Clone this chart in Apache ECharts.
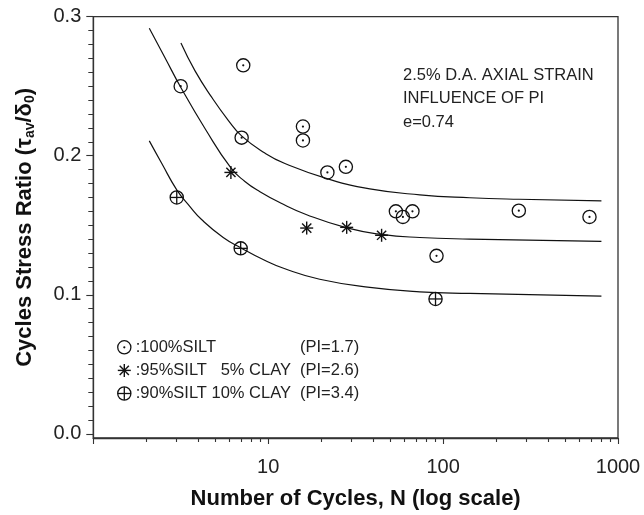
<!DOCTYPE html>
<html>
<head>
<meta charset="utf-8">
<script src="https://cdn.jsdelivr.net/npm/echarts@6/dist/echarts.min.js"></script>
<style>
html,body{margin:0;padding:0;background:#fff;}
#chart{width:644px;height:515px;}
</style>
</head>
<body>
<div id="chart"></div>
<script>
// ---------- data ----------
const silt100 = [[3.16,0.250],[7.2,0.265],[7.05,0.213],[15.8,0.221],[15.8,0.211],[21.8,0.188],[27.8,0.192],[53.7,0.160],[58.9,0.156],[66.8,0.160],[91.7,0.128],[271,0.1605],[687,0.156]];
const silt95 = [[6.12,0.188],[16.6,0.148],[28.1,0.1485],[44.5,0.1428]];
const silt90 = [[3.0,0.170],[6.96,0.1334],[90.5,0.097]];

const curve100 = [[3.17,0.281],[3.81,0.2612],[4.75,0.2421],[5.91,0.2255],[7.07,0.2141],[9.57,0.2019],[12.46,0.1944],[21.9,0.1834],[38.1,0.1762],[73.6,0.1719],[142,0.1698],[271,0.1687],[804,0.1676]];
const curve95 = [[2.09,0.2917],[2.57,0.2705],[3.16,0.2493],[4.35,0.2196],[6.12,0.1912],[7.36,0.1815],[8.97,0.1741],[11.7,0.1662],[16.6,0.1576],[28.2,0.1481],[44.5,0.1434],[73.6,0.1412],[142,0.1401],[804,0.1384]];
const curve90 = [[2.09,0.2107],[2.46,0.1946],[3.0,0.1755],[3.57,0.1634],[4.16,0.1541],[5.53,0.1412],[6.96,0.1339],[9.17,0.1259],[12.46,0.1187],[19.7,0.1112],[38.1,0.1053],[73.6,0.1021],[142,0.1010],[804,0.0991]];

const xMinorTicks = [2,3,4,5,6,7,8,9,20,30,40,50,60,70,80,90,200,300,400,500,600,700,800,900];
const yMajorTicks = [0, 0.1, 0.2, 0.3];
const yMinorTicks = [0.01,0.02,0.03,0.04,0.05,0.06,0.07,0.08,0.09,0.11,0.12,0.13,0.14,0.15,0.16,0.17,0.18,0.19,0.21,0.22,0.23,0.24,0.25,0.26,0.27,0.28,0.29];

const noteLines = ['2.5% D.A. AXIAL STRAIN', 'INFLUENCE OF PI', 'e=0.74'];
const legendKinds = ['dot', 'star', 'cross'];
const legendLabels = [':100%SILT', ':95%SILT   5% CLAY', ':90%SILT 10% CLAY'];
const legendPI = ['(PI=1.7)', '(PI=2.6)', '(PI=3.4)'];

// ---------- styling ----------
const FONT = '"Liberation Sans", Arial, Helvetica, sans-serif';
const INK = '#111';
const AXIS = '#333';

function markerShapes(kind) {
  const R = 6.6, lw = 1.3;
  const ring = {type:'circle', shape:{cx:0, cy:0, r:R}, style:{fill:'none', stroke:INK, lineWidth:lw}};
  if (kind === 'dot') {
    return [ring, {type:'circle', shape:{cx:0, cy:0, r:1.1}, style:{fill:INK}}];
  }
  if (kind === 'cross') {
    return [ring,
      {type:'line', shape:{x1:-R, y1:0, x2:R, y2:0}, style:{stroke:INK, lineWidth:lw}},
      {type:'line', shape:{x1:0, y1:-R, x2:0, y2:R}, style:{stroke:INK, lineWidth:lw}}];
  }
  const L = 6.5, d = L * Math.SQRT1_2;
  return [
    {type:'line', shape:{x1:-L, y1:0, x2:L, y2:0}, style:{stroke:INK, lineWidth:1.4}},
    {type:'line', shape:{x1:0, y1:-L, x2:0, y2:L}, style:{stroke:INK, lineWidth:1.4}},
    {type:'line', shape:{x1:-d, y1:-d, x2:d, y2:d}, style:{stroke:INK, lineWidth:1.4}},
    {type:'line', shape:{x1:-d, y1:d, x2:d, y2:-d}, style:{stroke:INK, lineWidth:1.4}}
  ];
}

function markerSeries(data, kind) {
  return {
    type:'custom', data:data, xAxisIndex:0, yAxisIndex:0, z:5, silent:true, animation:false,
    encode:{x:0, y:1},
    renderItem:function(params, api) {
      const p = api.coord([api.value(0), api.value(1)]);
      return {type:'group', x:p[0], y:p[1], children:markerShapes(kind)};
    }
  };
}

function curveSeries(data) {
  return {
    type:'line', data:data, xAxisIndex:0, yAxisIndex:0, smooth:0.5,
    showSymbol:false, symbol:'none', silent:true, animation:false,
    lineStyle:{color:INK, width:1.2}
  };
}

const graphics = [];
noteLines.forEach(function(t, i) {
  graphics.push({type:'text', x:403, y:75 + i * 23.7, silent:true,
    style:{text:t, fontSize:16.5, fontFamily:FONT, fill:'#222', verticalAlign:'middle', align:'left'}});
});
legendLabels.forEach(function(t, i) {
  const y = 347.3 + i * 23.1;
  graphics.push({type:'group', x:124.3, y:y, silent:true, children:markerShapes(legendKinds[i])});
  graphics.push({type:'text', x:135.7, y:y, silent:true,
    style:{text:t, fontSize:16.5, fontFamily:FONT, fill:'#222', verticalAlign:'middle', align:'left'}});
  graphics.push({type:'text', x:300, y:y, silent:true,
    style:{text:legendPI[i], fontSize:16.5, fontFamily:FONT, fill:'#222', verticalAlign:'middle', align:'left'}});
});

const chart = echarts.init(document.getElementById('chart'), null, {renderer:'canvas'});
chart.setOption({
  animation:false,
  backgroundColor:'#fff',
  grid:{left:93.3, right:26, top:16.7, bottom:75, show:true, borderColor:AXIS, borderWidth:1.3, backgroundColor:'transparent'},
  xAxis:[{
    type:'log', logBase:10, min:1, max:1000, position:'bottom',
    name:'Number of Cycles, N (log scale)', nameLocation:'middle', nameGap:50,
    nameTextStyle:{fontFamily:FONT, fontWeight:'bold', fontSize:22, color:INK},
    axisLine:{show:true, onZero:false, lineStyle:{color:AXIS, width:1.3}},
    axisTick:{show:true, length:6, lineStyle:{color:AXIS, width:1.1}},
    axisLabel:{fontFamily:FONT, fontSize:20, color:'#222', margin:19,
      formatter:function(v){ return v < 5 ? '' : String(Math.round(v)); }},
    splitLine:{show:false}, minorTick:{show:false}
  },{
    type:'log', logBase:10, min:1, max:1000, position:'bottom',
    axisLine:{show:false, onZero:false},
    axisTick:{show:true, length:4, customValues:xMinorTicks, lineStyle:{color:AXIS, width:1.1}},
    axisLabel:{show:false}, splitLine:{show:false}
  }],
  yAxis:[{
    type:'value', min:-0.003, max:0.3, position:'left',
    name:'{m|Cycles Stress Ratio (τ}{s|av}{m|/δ}{s|0}{m|)}',
    nameLocation:'middle', nameGap:56,
    nameTextStyle:{fontFamily:FONT, fontWeight:'bold', fontSize:22, color:INK,
      rich:{
        m:{fontFamily:FONT, fontWeight:'bold', fontSize:22, color:INK, lineHeight:24},
        s:{fontFamily:FONT, fontWeight:'bold', fontSize:14, color:INK, lineHeight:12, verticalAlign:'bottom'}
      }},
    axisLine:{show:true, onZero:false, lineStyle:{color:AXIS, width:1.3}},
    axisTick:{show:true, length:7, customValues:yMajorTicks, lineStyle:{color:AXIS, width:1.1}},
    axisLabel:{fontFamily:FONT, fontSize:20, color:'#222', margin:12, customValues:yMajorTicks,
      formatter:function(v){ return Number(v).toFixed(1); }},
    splitLine:{show:false}
  },{
    type:'value', min:-0.003, max:0.3, position:'left',
    axisLine:{show:false, onZero:false},
    axisTick:{show:true, length:5, customValues:yMinorTicks, lineStyle:{color:AXIS, width:1}},
    axisLabel:{show:false}, splitLine:{show:false}
  }],
  series:[
    curveSeries(curve100), curveSeries(curve95), curveSeries(curve90),
    markerSeries(silt100, 'dot'), markerSeries(silt95, 'star'), markerSeries(silt90, 'cross')
  ],
  graphic:graphics
});
</script>
</body>
</html>
